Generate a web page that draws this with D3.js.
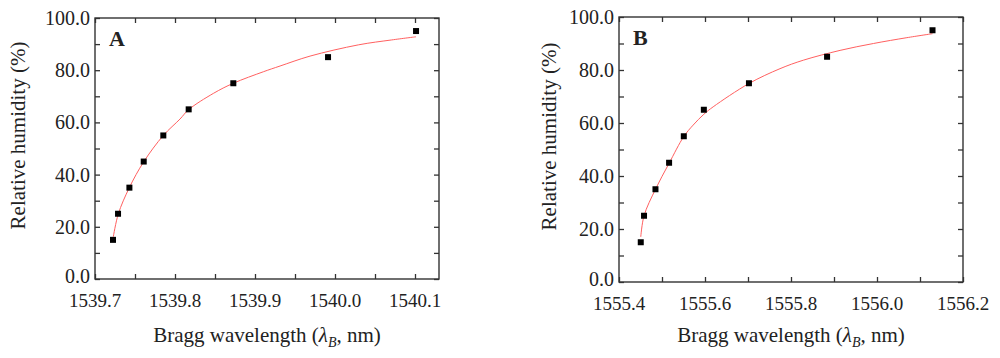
<!DOCTYPE html>
<html>
  <head>
    <meta charset="utf-8">
    <title>RH vs Bragg wavelength</title>
    <style media="screen">
    body{margin: 0; background: #fff}
    </style>
  </head>
  <body>
    <script src="https://d3js.org/d3.v7.min.js"></script>
    <script type="text/javascript">
      // humidity levels (%)
      var humidity = [15, 25, 35, 45, 55, 65, 75, 85, 95];

      // panel A measured wavelengths
      var wavelengthA = [1539.7225, 1539.7288, 1539.743, 1539.7609, 1539.7854, 1539.8171, 1539.8729, 1539.9913, 1540.1013];
      // fitted curve A
      var fitXA = [1539.7229, 1539.7291, 1539.7429, 1539.7609, 1539.7854, 1539.8063, 1539.8171, 1539.8479, 1539.8729, 1539.9104, 1539.9313, 1539.9688, 1540.0291, 1540.0709, 1540.1013];
      var fitYA = [16.2, 24.9, 35.0, 44.9, 55.0, 61.3, 64.9, 71.1, 75.0, 79.4, 81.6, 85.4, 89.7, 91.6, 92.8];

      // panel B measured wavelengths
      var wavelengthB = [1555.4506, 1555.4582, 1555.4848, 1555.5165, 1555.5507, 1555.5973, 1555.7022, 1555.8839, 1556.1291];
      var fitXB = [1555.4506, 1555.4582, 1555.4848, 1555.5165, 1555.5507, 1555.5724, 1555.5973, 1555.6190, 1555.7022, 1555.7744, 1555.8287, 1555.9141, 1555.9917, 1556.0695, 1556.1291];
      var fitYB = [17.0, 25.0, 35.0, 44.8, 54.9, 59.2, 63.3, 66.1, 74.9, 80.5, 83.7, 87.4, 90.0, 92.2, 93.7];

      var yTicks = [0, 20, 40, 60, 80, 100];
      var xTicksA = [1539.7, 1539.8, 1539.9, 1540.0, 1540.1];
      var xTicksB = [1555.4, 1555.6, 1555.8, 1556.0, 1556.2];

      var serif = '"Liberation Serif", Tinos, "Times New Roman", Times, "DejaVu Serif", serif'

      var svg = d3.select('body').append('svg')
        .attr('width', 1000)
        .attr('height', 358)
        .attr('font-family', serif)
        .attr('fill', '#222')

      var panels = [
        {label: 'A', x: wavelengthA, fx: fitXA, fy: fitYA, ticks: xTicksA, minor: 0.05,
         domain: [1539.7, 1540.13], left: 95, right: 439, top: 18, bottom: 279, ytitle: 77},
        {label: 'B', x: wavelengthB, fx: fitXB, fy: fitYB, ticks: xTicksB, minor: 0.1,
         domain: [1555.4, 1556.2], left: 619, right: 963, top: 17, bottom: 282, ytitle: 70}
      ];

      panels.forEach(function(p){
        var g = svg.append('g')
        var x = d3.scaleLinear().domain(p.domain).range([p.left, p.right])
        var y = d3.scaleLinear().domain([0, 100]).range([p.bottom, p.top])

        var minorX = d3.range(p.domain[0], p.domain[1] + 1e-9, p.minor)
        var minorY = d3.range(0, 100.01, 10)

        // ticks on all four sides, pointing inward
        var tick = 5
        g.append('g').attr('transform', 'translate(0,' + p.bottom + ')')
          .call(d3.axisTop(x).tickValues(minorX).tickSize(tick).tickFormat(''))
        g.append('g').attr('transform', 'translate(0,' + p.top + ')')
          .call(d3.axisBottom(x).tickValues(minorX).tickSize(tick).tickFormat(''))
        g.append('g').attr('transform', 'translate(' + p.left + ',0)')
          .call(d3.axisRight(y).tickValues(minorY).tickSize(tick).tickFormat(''))
        g.append('g').attr('transform', 'translate(' + p.right + ',0)')
          .call(d3.axisLeft(y).tickValues(minorY).tickSize(tick).tickFormat(''))
        g.selectAll('.domain').remove()
        g.selectAll('.tick line').attr('stroke', '#333').attr('stroke-width', 1.3)

        g.append('rect')
          .attr('x', p.left).attr('y', p.top)
          .attr('width', p.right - p.left).attr('height', p.bottom - p.top)
          .attr('fill', 'none').attr('stroke', '#333').attr('stroke-width', 1.4)

        // tick labels
        g.selectAll('.xl').data(p.ticks).enter().append('text')
          .attr('x', function(d){ return x(d) })
          .attr('y', p.bottom + 28)
          .attr('text-anchor', 'middle')
          .style('font-size', '19px')
          .text(d3.format('.1f'))
        g.selectAll('.yl').data(yTicks).enter().append('text')
          .attr('x', p.left - 5)
          .attr('y', function(d){ return y(d) + (d === 0 ? 4 : 7) })
          .attr('text-anchor', 'end')
          .style('font-size', '20px')
          .text(d3.format('.1f'))

        // axis titles
        var xt = g.append('text')
          .attr('x', (p.left + p.right) / 2)
          .attr('y', 342)
          .attr('text-anchor', 'middle')
          .style('font-size', '21px')
        xt.append('tspan').text('Bragg wavelength (')
        xt.append('tspan').style('font-style', 'italic').text('λ')
        xt.append('tspan').style('font-style', 'italic').style('font-size', '14px').attr('dy', 5).text('B')
        xt.append('tspan').attr('dy', -5).text(', nm)')

        g.append('text')
          .attr('transform', 'translate(' + (p.left - p.ytitle) + ',' + ((p.top + p.bottom) / 2 - 13) + ') rotate(-90)')
          .attr('text-anchor', 'middle')
          .attr('dy', '0.35em')
          .style('font-size', '21px')
          .text('Relative humidity (%)')

        g.append('text')
          .attr('x', p.left + 14).attr('y', p.top + 28)
          .style('font-size', '22px').style('font-weight', 'bold')
          .text(p.label)

        // fitted curve
        var line = d3.line()
          .x(function(d){ return x(d[0]) })
          .y(function(d){ return y(d[1]) })
          .curve(d3.curveCatmullRom.alpha(0.5))
        g.append('path')
          .datum(d3.zip(p.fx, p.fy))
          .attr('d', line)
          .attr('fill', 'none')
          .attr('stroke', '#ff6060')
          .attr('stroke-width', 1)

        // data markers
        var s = 6
        g.selectAll('.pt').data(d3.zip(p.x, humidity)).enter().append('rect')
          .attr('x', function(d){ return x(d[0]) - s / 2 })
          .attr('y', function(d){ return y(d[1]) - s / 2 })
          .attr('width', s).attr('height', s)
          .attr('fill', '#000')
      })
    </script>
  </body>
</html>
